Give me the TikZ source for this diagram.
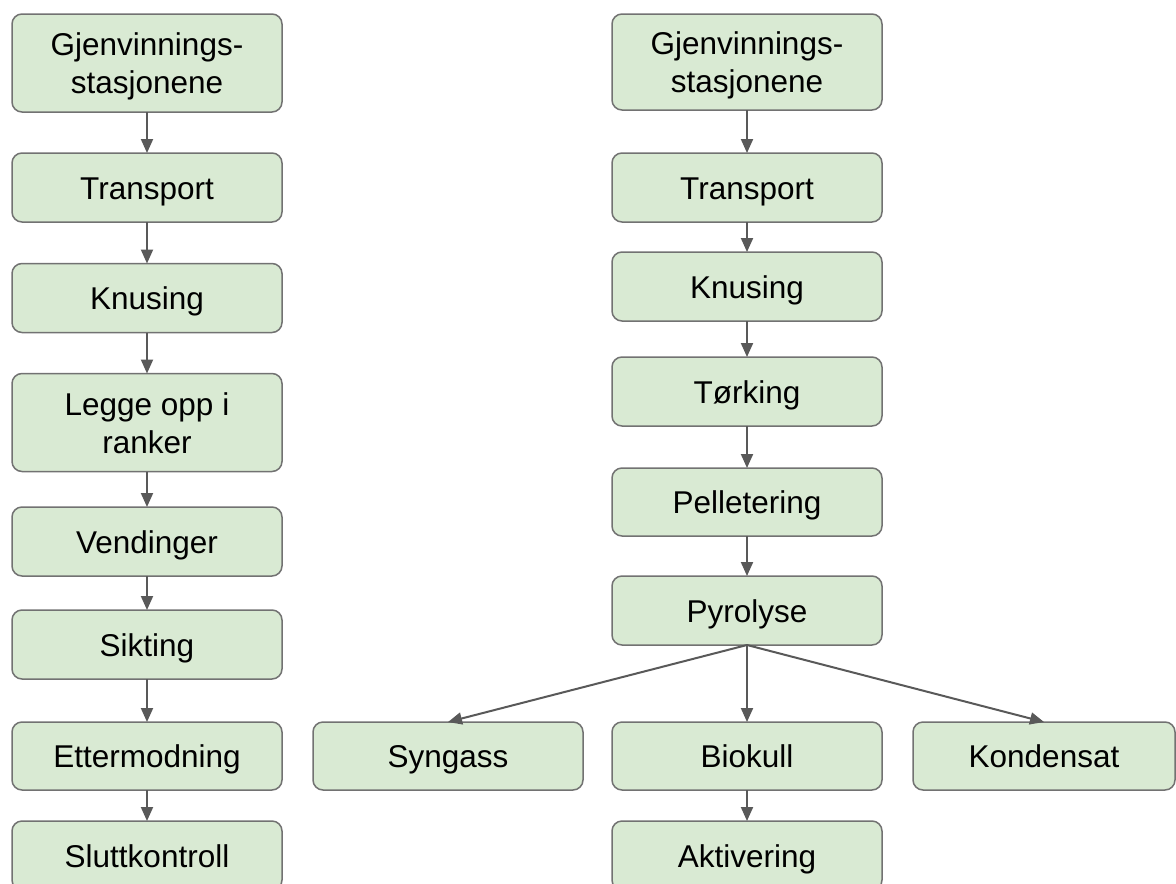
\documentclass[tikz,border=0pt]{standalone}
\usepackage{fontspec}
\setmainfont{Liberation Sans}
\usetikzlibrary{arrows.meta}
\definecolor{boxfill}{HTML}{D9EAD3}
\definecolor{boxline}{HTML}{727272}
\definecolor{flow}{HTML}{595959}
\tikzset{
  stepbox/.style={draw=boxline, fill=boxfill, line width=1.5pt,
    rounded corners=10pt, minimum width=270pt, minimum height=69pt,
    inner sep=0pt, outer sep=0pt, align=center,
    text height=23pt, text depth=-3pt,
    font=\fontsize{31.5}{38}\selectfont},
  % two-line boxes: the box baseline sits on the last line
  tallbox/.style={stepbox, minimum height=98pt, text height=61pt},
  flowarrow/.style={draw=flow, line width=2pt,
    -{Triangle[length=14pt,width=12pt]}}
}
\begin{document}
\begin{tikzpicture}[x=1pt,y=-1pt]
\useasboundingbox (0,0) rectangle (1176,884);
% left chain
\node[tallbox] (l1) at (147,63) {Gjenvinnings-\\stasjonene};
\node[stepbox] (l2) at (147,187.5) {Transport};
\node[stepbox] (l3) at (147,298) {Knusing};
\node[tallbox] (l4) at (147,422.5) {Legge opp i\\ranker};
\node[stepbox] (l5) at (147,541.5) {Vendinger};
\node[stepbox] (l6) at (147,644.5) {Sikting};
\node[stepbox, minimum height=68pt] (l7) at (147,756) {Ettermodning};
\node[stepbox] (l8) at (147,855.5) {Sluttkontroll};
% right chain
\node[tallbox, minimum height=96pt] (r1) at (747,62) {Gjenvinnings-\\stasjonene};
\node[stepbox] (r2) at (747,187.5) {Transport};
\node[stepbox] (r3) at (747,286.5) {Knusing};
\node[stepbox] (r4) at (747,391.5) {Tørking};
\node[stepbox, minimum height=68pt] (r5) at (747,502) {Pelletering};
\node[stepbox] (r6) at (747,610.5) {Pyrolyse};
\node[stepbox, minimum height=68pt] (syn) at (448,756) {Syngass};
\node[stepbox, minimum height=68pt] (bio) at (747,756) {Biokull};
\node[stepbox, minimum height=68pt, minimum width=262pt] (kon) at (1044,756) {Kondensat};
\node[stepbox] (akt) at (747,855.5) {Aktivering};
% connectors
\foreach \a/\b in {l1/l2,l2/l3,l3/l4,l4/l5,l5/l6,l6/l7,l7/l8,
                   r1/r2,r2/r3,r3/r4,r4/r5,r5/r6,r6/bio,bio/akt}
  \draw[flowarrow] (\a.south) -- (\b.north);
\draw[flowarrow] (r6.south) -- (syn.north);
\draw[flowarrow] (r6.south) -- (kon.north);
\end{tikzpicture}
\end{document}
